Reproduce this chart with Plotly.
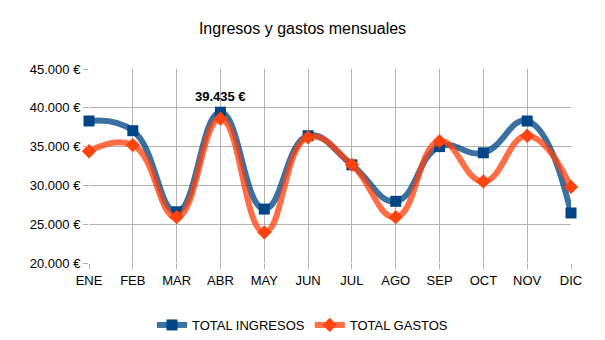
import plotly.graph_objects as go

meses = ["ENE", "FEB", "MAR", "ABR", "MAY", "JUN", "JUL", "AGO", "SEP", "OCT", "NOV", "DIC"]
total_ingresos = [38300, 37050, 26600, 39435, 26950, 36400, 32650, 27950, 35000, 34200, 38300, 26450]
total_gastos = [34400, 35200, 25900, 38600, 23950, 36200, 32650, 25900, 35700, 30500, 36400, 29800]
y_ticks = [20000, 25000, 30000, 35000, 40000, 45000]
y_ticktext = [f"{v:,}".replace(",", ".") + " €" for v in y_ticks]

FONT = "Liberation Sans, Arial, sans-serif"
W, H = 605, 340
ML, MR, MT, MB = 89, 34, 69, 77

fig = go.Figure()
fig.add_trace(go.Scatter(
    x=meses, y=total_ingresos, name="TOTAL INGRESOS",
    mode="lines+markers", cliponaxis=False,
    line=dict(color="rgba(0,69,134,0.77)", width=6, shape="spline", smoothing=1.3),
    marker=dict(symbol="square", size=11, color="#004586"),
))
fig.add_trace(go.Scatter(
    x=meses, y=total_gastos, name="TOTAL GASTOS",
    mode="lines+markers", cliponaxis=False,
    line=dict(color="rgba(255,66,14,0.77)", width=6, shape="spline", smoothing=1.3),
    marker=dict(symbol="diamond", size=11, color="#ff420e"),
))

imax = total_ingresos.index(max(total_ingresos))
fig.add_annotation(
    x=meses[imax], y=total_ingresos[imax], xref="x", yref="y",
    text="<b>" + f"{total_ingresos[imax]:,}".replace(",", ".") + " €</b>",
    showarrow=False, yshift=16, font=dict(family=FONT, size=13, color="#000000"),
)

plot_w = W - ML - MR
plot_h = H - MT - MB
fig.update_layout(
    width=W, height=H,
    margin=dict(l=ML, r=MR, t=MT, b=MB, autoexpand=False),
    paper_bgcolor="white", plot_bgcolor="white",
    title=dict(text="Ingresos y gastos mensuales", x=0.5, xanchor="center",
               y=1 - 28 / H, yanchor="middle", yref="container",
               font=dict(family=FONT, size=16, color="#000000")),
    font=dict(family=FONT, size=13, color="#000000"),
    showlegend=True,
    legend=dict(orientation="h", x=(W / 2 - ML) / plot_w, xanchor="center",
                y=-47 / plot_h, yanchor="top", font=dict(family=FONT, size=13),
                itemwidth=30),
)
fig.update_xaxes(
    type="category", range=[0, len(meses) - 1],
    showgrid=True, gridcolor="#b3b3b3", gridwidth=1,
    ticks="outside", ticklen=5, tickcolor="#b3b3b3",
    showline=False, zeroline=False,
    tickfont=dict(family=FONT, size=13, color="#000000"),
)
fig.update_yaxes(
    range=[y_ticks[0], y_ticks[-1]], tickvals=y_ticks, ticktext=y_ticktext,
    showgrid=True, gridcolor="#b3b3b3", gridwidth=1,
    ticks="outside", ticklen=5, tickcolor="#b3b3b3",
    showline=False, zeroline=False,
    tickfont=dict(family=FONT, size=13, color="#000000"),
)

fig.write_html("out.html")
